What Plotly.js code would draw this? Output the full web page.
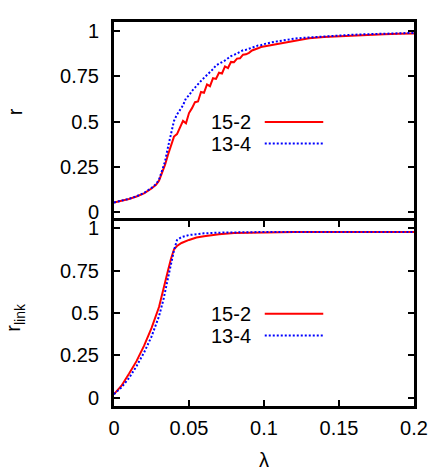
<!DOCTYPE html>
<html>
<head>
<meta charset="utf-8">
<script src="https://cdn.plot.ly/plotly-3.0.1.min.js"></script>
<style>
  html, body { margin: 0; padding: 0; background: #fff; }
  #plot { width: 439px; height: 471px; }
</style>
</head>
<body>
<div id="plot"></div>
<script>
// top panel: order parameter r vs lambda
const lamR = [0, 0.005, 0.01, 0.015, 0.02, 0.025, 0.028,
  0.030, 0.032, 0.034, 0.036, 0.038, 0.040, 0.042, 0.044, 0.046, 0.048,
  0.050, 0.052, 0.054, 0.056, 0.058, 0.060, 0.062, 0.064, 0.066, 0.068,
  0.070, 0.072, 0.074, 0.076, 0.078, 0.080, 0.082, 0.084, 0.086, 0.088,
  0.090, 0.092, 0.094, 0.096, 0.098, 0.100,
  0.105, 0.110, 0.115, 0.120, 0.125, 0.130, 0.140, 0.150, 0.160, 0.170, 0.180, 0.190, 0.200];

const r_15_2 = [0.055, 0.064, 0.074, 0.088, 0.105, 0.132, 0.152,
  0.175, 0.215, 0.262, 0.318, 0.372, 0.418, 0.432, 0.468, 0.505, 0.492,
  0.548, 0.575, 0.608, 0.612, 0.664, 0.660, 0.706, 0.696, 0.740, 0.736,
  0.770, 0.766, 0.805, 0.796, 0.830, 0.828, 0.848, 0.850, 0.870, 0.872,
  0.880, 0.893, 0.897, 0.905, 0.912, 0.915,
  0.925, 0.930, 0.937, 0.948, 0.955, 0.960, 0.967, 0.972, 0.976, 0.980, 0.983, 0.985, 0.987];

const r_13_4 = [0.055, 0.064, 0.075, 0.089, 0.107, 0.135, 0.156,
  0.180, 0.225, 0.280, 0.360, 0.435, 0.505, 0.540, 0.565, 0.590, 0.630,
  0.645, 0.670, 0.690, 0.710, 0.725, 0.742, 0.758, 0.772, 0.790, 0.810,
  0.818, 0.830, 0.838, 0.850, 0.862, 0.868, 0.876, 0.882, 0.894, 0.897,
  0.903, 0.906, 0.913, 0.920, 0.922, 0.928,
  0.938, 0.946, 0.952, 0.958, 0.962, 0.965, 0.971, 0.976, 0.980, 0.983, 0.986, 0.988, 0.990];

// bottom panel: r_link vs lambda
const lamLink = [0, 0.005, 0.01, 0.015, 0.02, 0.025, 0.03, 0.033, 0.036, 0.038,
  0.04, 0.042, 0.045, 0.05, 0.055, 0.06, 0.07, 0.08, 0.1, 0.12, 0.15, 0.2];

const link_15_2 = [0.02, 0.07, 0.14, 0.215, 0.305, 0.41, 0.535, 0.635, 0.75, 0.82,
  0.875, 0.895, 0.913, 0.931, 0.945, 0.953, 0.965, 0.972, 0.977, 0.978, 0.978, 0.978];

const link_13_4 = [0.02, 0.06, 0.115, 0.185, 0.265, 0.36, 0.48, 0.58, 0.706, 0.79,
  0.87, 0.93, 0.948, 0.96, 0.966, 0.97, 0.974, 0.976, 0.978, 0.978, 0.978, 0.978];

const seriesNames = ["15-2", "13-4"];
const xTicks = [0, 0.05, 0.1, 0.15, 0.2];
const xTickText = ["0", "0.05", "0.1", "0.15", "0.2"];
const yTicks = [0, 0.25, 0.5, 0.75, 1];
const yTickText = ["0", "0.25", "0.5", "0.75", "1"];

const RED = "#ff0000";
const BLUE = "#0000ff";
const FONT = { family: "Liberation Sans, Arial, sans-serif", size: 20, color: "#000" };
const split = 0.4805;

const redLine = { color: RED, width: 2 };
const blueLine = { color: BLUE, width: 2, dash: "2px,2px" };

const traces = [
  { x: lamR, y: r_15_2, xaxis: "x2", yaxis: "y2", type: "scatter", mode: "lines", line: redLine },
  { x: lamR, y: r_13_4, xaxis: "x2", yaxis: "y2", type: "scatter", mode: "lines", line: blueLine },
  { x: lamLink, y: link_15_2, xaxis: "x", yaxis: "y", type: "scatter", mode: "lines", line: redLine },
  { x: lamLink, y: link_13_4, xaxis: "x", yaxis: "y", type: "scatter", mode: "lines", line: blueLine },
];

const frame = {
  showline: true, linecolor: "#000", linewidth: 3,
  showgrid: false, zeroline: false,
  ticks: "inside", ticklen: 6, tickwidth: 2, tickcolor: "#000",
  mirror: "allticks", tickfont: FONT,
};

// legend drawn gnuplot style: text on the left, sample on the right
function legendBlock(xref, yref, ys) {
  const ann = [], shp = [];
  seriesNames.forEach((name, i) => {
    ann.push({ xref, yref, x: 0.0925, y: ys[i], text: name, showarrow: false,
      xanchor: "right", yanchor: "middle", font: FONT });
    shp.push({ type: "line", xref, yref, x0: 0.1005, x1: 0.1395, y0: ys[i], y1: ys[i],
      line: i === 0 ? redLine : blueLine });
  });
  return { ann, shp };
}
const topLeg = legendBlock("x2", "y2", [0.499, 0.38]);
const botLeg = legendBlock("x", "y", [0.495, 0.366]);

const layout = {
  width: 439, height: 471,
  margin: { l: 114, r: 25, t: 22, b: 65 },
  paper_bgcolor: "#fff", plot_bgcolor: "#fff",
  showlegend: false,
  font: FONT,
  xaxis: Object.assign({}, frame, {
    domain: [0, 1], anchor: "y", range: [0, 0.2],
    tickvals: xTicks, ticktext: xTickText, ticklabelstandoff: 2,
    title: { text: "λ", font: FONT, standoff: 16 },
  }),
  yaxis: Object.assign({}, frame, {
    domain: [0, split], anchor: "x", range: [-0.05, 1.04],
    tickvals: yTicks, ticktext: yTickText, ticklabelstandoff: 8,
  }),
  xaxis2: {
    domain: [0, 1], anchor: "y2", range: [0, 0.2], side: "top",
    showline: true, linecolor: "#000", linewidth: 3, mirror: false,
    showgrid: false, zeroline: false, ticks: "", showticklabels: false,
  },
  yaxis2: Object.assign({}, frame, {
    domain: [split, 1], anchor: "x2", range: [-0.05, 1.05],
    tickvals: yTicks, ticktext: yTickText, ticklabelstandoff: 8,
  }),
  annotations: [
    { xref: "paper", yref: "paper", x: -0.33, y: 0.765, text: "r", textangle: -90,
      showarrow: false, xanchor: "center", yanchor: "middle", font: FONT },
    { xref: "paper", yref: "paper", x: -0.33, y: 0.23, text: "r<sub>link</sub>", textangle: -90,
      showarrow: false, xanchor: "center", yanchor: "middle", font: FONT },
  ].concat(topLeg.ann, botLeg.ann),
  shapes: topLeg.shp.concat(botLeg.shp),
};

Plotly.newPlot("plot", traces, layout, { displayModeBar: false, staticPlot: true });
</script>
</body>
</html>
